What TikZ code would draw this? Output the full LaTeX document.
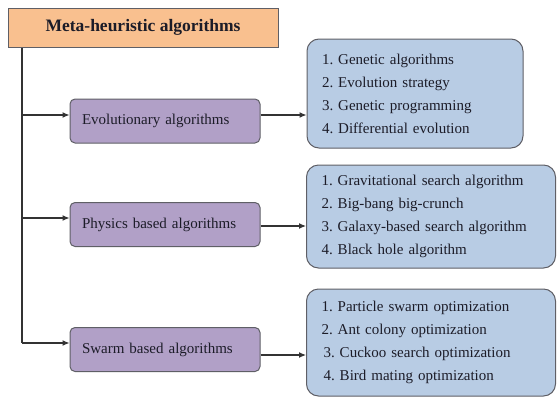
\documentclass[tikz,border=0pt]{standalone}
\usepackage{fontspec}
\setmainfont{Liberation Serif}
\usetikzlibrary{arrows.meta}
\frenchspacing
\definecolor{peach}{HTML}{F9C08F}
\definecolor{lilac}{HTML}{B1A0C7}
\definecolor{paleblue}{HTML}{B8CCE4}
\definecolor{edgegray}{HTML}{5F5F66}
\definecolor{ink}{HTML}{1C1C28}
\tikzset{
  titlebox/.style={draw=edgegray, line width=1pt, fill=peach, minimum width=270pt, minimum height=39pt, inner sep=0pt, text=ink, font=\fontsize{17.5}{20}\selectfont\bfseries},
  catbox/.style={draw=edgegray, line width=1pt, fill=lilac, rounded corners=5pt, minimum width=190pt, minimum height=44pt, inner xsep=12pt, inner ysep=0pt, text width=166pt, align=left, text=ink, font=\fontsize{15}{18}\selectfont},
  listbox/.style={draw=edgegray, line width=1pt, fill=paleblue, rounded corners=12pt, inner xsep=15pt, inner ysep=0pt, align=left, text=ink, font=\fontsize{15}{23}\selectfont},
  conn/.style={draw=black!80, line width=1.1pt},
  arr/.style={conn, -{Latex[length=7pt,width=6pt]}}
}
\begin{document}
\begin{tikzpicture}[x=1pt,y=-1pt]
\useasboundingbox (0,0) rectangle (557,399);
\node[titlebox] (title) at (143,27.5) {Meta-heuristic algorithms};
\node[catbox] (evo) at (165,121) {Evolutionary algorithms};
\node[catbox] (phy) at (165,224.5) {Physics based algorithms};
\node[catbox] (swa) at (165,349.5) {Swarm based algorithms};
\node[listbox, minimum width=216pt, minimum height=109pt, text width=186pt] (b1) at (415,93.5)
  {1. Genetic algorithms\\2. Evolution strategy\\3. Genetic programming\\4. Differential evolution};
\node[listbox, minimum width=249pt, minimum height=103pt, text width=219pt] (b2) at (431,216.5)
  {1. Gravitational search algorithm\\2. Big-bang big-crunch\\3. Galaxy-based search algorithm\\4. Black hole algorithm};
\node[listbox, minimum width=249pt, minimum height=107pt, text width=219pt] (b3) at (431,342.5)
  {1. Particle swarm optimization\\2. Ant colony optimization\\\hspace*{2pt}3. Cuckoo search optimization\\\hspace*{2pt}4. Bird mating optimization};
\coordinate (top) at (22,47);
\coordinate (t1) at (22,115);
\coordinate (t2) at (22,218);
\coordinate (t3) at (22,343);
\coordinate (r1) at (300,115);
\coordinate (r2) at (300,226);
\coordinate (r3) at (300,355);
\draw[conn] (top |- title.south) -- (t3);
\draw[arr] (t1) -- (t1 -| evo.west);
\draw[arr] (t2) -- (t2 -| phy.west);
\draw[arr] (t3) -- (t3 -| swa.west);
\draw[arr] (r1 -| evo.east) -- (r1 -| b1.west);
\draw[arr] (r2 -| phy.east) -- (r2 -| b2.west);
\draw[arr] (r3 -| swa.east) -- (r3 -| b3.west);
\end{tikzpicture}
\end{document}
